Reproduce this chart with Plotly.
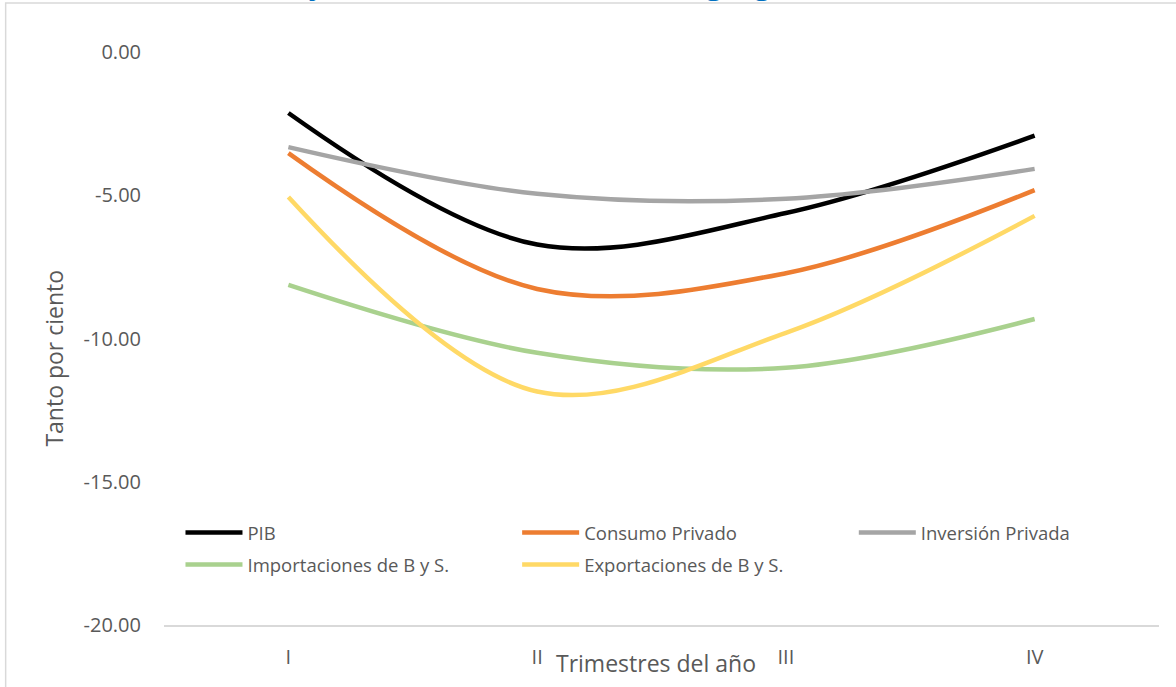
import plotly.graph_objects as go

# Quarterly growth rates (%)
trimestres = ["I", "II", "III", "IV"]
pib = [-2.13, -6.72, -5.62, -2.92]
consumo_privado = [-3.53, -8.27, -7.72, -4.82]
inversion_privada = [-3.32, -4.95, -5.12, -4.08]
importaciones = [-8.13, -10.50, -11.02, -9.32]
exportaciones = [-5.06, -11.85, -9.80, -5.72]

y_ticks = [0, -5, -10, -15, -20]
y_tick_labels = ["0.00", "-5.00", "-10.00", "-15.00", "-20.00"]

# name, values, colour, legend column
series = [
    ("PIB", pib, "#000000", "legend"),
    ("Consumo Privado", consumo_privado, "#ED7D31", "legend2"),
    ("Inversión Privada", inversion_privada, "#A5A5A5", "legend3"),
    ("Importaciones de B y S.", importaciones, "#A9D18E", "legend"),
    ("Exportaciones de B y S.", exportaciones, "#FFD966", "legend2"),
]

FONT = "Open Sans"
GREY = "#595959"

# figure geometry (pixels)
W, H = 1176, 687
L, R, T, B = 163.5, 1159.5, 52, 625


def px_x(p):
    return (p - L) / (R - L)


def px_y(p):
    return 1 - (p - T) / (B - T)


fig = go.Figure()
for name, vals, color, leg in series:
    fig.add_trace(go.Scatter(
        x=trimestres, y=vals, name=name, mode="lines",
        line=dict(color=color, width=4.5, shape="spline", smoothing=1),
        legend=leg, legendgroup=name,
    ))

legend_common = dict(
    orientation="v", xanchor="left", yanchor="top",
    itemwidth=57, tracegroupgap=5,
    font=dict(family=FONT, size=18.5, color=GREY),
    bgcolor="rgba(0,0,0,0)",
)
legend_top = px_y(514)

fig.update_layout(
    width=W, height=H,
    margin=dict(l=L, r=W - R, t=T, b=H - B, pad=0),
    paper_bgcolor="white", plot_bgcolor="white",
    showlegend=True,
    legend=dict(x=px_x(180), y=legend_top, **legend_common),
    legend2=dict(x=px_x(517), y=legend_top, **legend_common),
    legend3=dict(x=px_x(854), y=legend_top, **legend_common),
    xaxis=dict(
        type="category", range=[-0.5, 3.5],
        showgrid=False, zeroline=False,
        showline=True, linecolor="#D9D9D9", linewidth=1.5,
        ticks="", ticklabelstandoff=13,
        tickfont=dict(family=FONT, size=20, color=GREY),
    ),
    yaxis=dict(
        range=[-20, 0], tickvals=y_ticks, ticktext=y_tick_labels,
        showgrid=False, zeroline=False, showline=False,
        ticks="", ticklabelstandoff=22,
        tickfont=dict(family=FONT, size=20, color=GREY),
    ),
    annotations=[
        dict(text="Tanto por ciento", xref="paper", yref="paper",
             x=px_x(53), y=px_y(358), textangle=-90, showarrow=False,
             xanchor="center", yanchor="middle",
             font=dict(family=FONT, size=23, color=GREY)),
        dict(text="Trimestres del año", xref="paper", yref="paper",
             x=px_x(656), y=px_y(663), showarrow=False,
             xanchor="center", yanchor="middle",
             font=dict(family=FONT, size=23, color=GREY)),
        dict(text="<b>Variación del PIB y de la Demanda Interna Agregada de Honduras, 2020</b>",
             xref="paper", yref="paper", x=px_x(46), y=px_y(5),
             xanchor="left", yanchor="bottom", showarrow=False,
             font=dict(family=FONT, size=30, color="#0070C0")),
    ],
    shapes=[
        dict(type="rect", xref="paper", yref="paper",
             x0=px_x(5), x1=px_x(1190), y0=px_y(700), y1=px_y(3),
             line=dict(color="#D9D9D9", width=1.5), layer="below"),
    ],
)

fig.write_html("out.html")
